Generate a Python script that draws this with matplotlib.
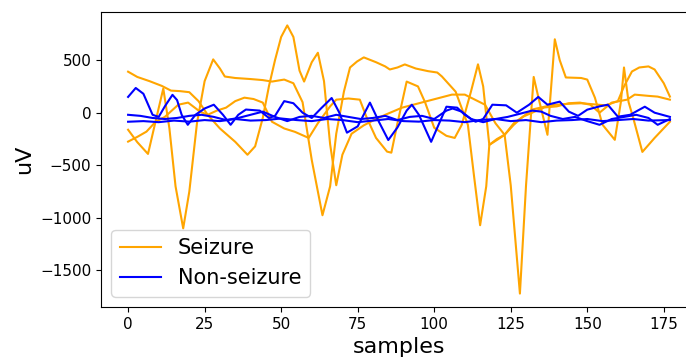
import numpy as np
import matplotlib.pyplot as plt

# seizure traces (sample index, uV)
seizure_1_x = [0, 3, 7, 11, 14, 17, 20, 23, 26, 29, 32, 35, 38, 41, 44, 47, 51, 54.5, 59, 62, 64, 66, 68, 72,
               75.7, 78, 81, 84.6, 86, 88, 91, 94.7, 97, 100, 104, 106.7, 109, 112, 114.3, 116, 118, 121, 123,
               126, 129, 132, 136, 140, 144, 147.6, 151, 154, 158, 163, 165.5, 170, 173, 177]
seizure_1_y = [390, 340, 300, 255, 210, 205, 195, 110, -20, 20, 48, 110, 143, 130, 96, -86, -150, -182, -240,
               -100, -20, 60, 124, 135, 124, -50, -240, -370, -380, -100, 296, 250, 100, -143, -220, -240,
               -115, 200, 460, 250, -306, -250, -210, -100, -38, 0, 50, 60, 90, 96, 76, 0, 96, 124, 172,
               160, 153, 124]

seizure_2_x = [0, 3, 6.5, 9, 11.5, 13.5, 15.5, 18, 20, 22.5, 25, 27.8, 30, 31.6, 35, 40, 44, 47, 51, 54, 57,
               60, 63.5, 66, 68, 70.5, 72.5, 74.8, 77, 81, 84, 85.5, 88, 90.4, 94, 98, 101, 102.5, 107, 111,
               113, 115, 117, 118, 120.5, 123, 126, 129, 132, 135, 138, 140, 144, 148, 152, 156, 160, 162,
               164.6, 167, 170, 172, 175, 177]
seizure_2_y = [-162, -280, -392, -80, 230, -150, -700, -1100, -750, -100, 300, 507, 420, 344, 330, 320, 310,
               296, 315, 280, 100, -450, -975, -700, -200, 200, 430, 487, 526, 480, 440, 411, 430, 459, 420,
               395, 382, 345, 200, -115, -600, -1070, -700, -306, -250, -210, -115, -38, 30, 50, 70, 76, 85,
               90, 80, 70, 110, 250, 392, 430, 440, 411, 280, 153]

seizure_3_x = [0, 3, 6, 9, 12, 16.4, 19.6, 23.5, 26, 30, 35, 39, 41.5, 44, 46, 48, 50, 52, 54, 56, 57.5, 60,
               62, 64, 66, 68, 70, 73, 77, 81, 84, 89.5, 97, 105.8, 110, 116.6, 120, 123, 125, 128, 130,
               132.5, 134, 137, 139.4, 141, 143, 148, 150, 152.5, 155, 159, 161, 162, 163.5, 165, 168, 172, 177]
seizure_3_y = [-275, -230, -180, -86, -40, 76, 96, 10, -20, -150, -277, -400, -320, -50, 250, 500, 720, 830,
               720, 400, 296, 480, 570, 300, -300, -690, -400, -200, -120, -60, -20, 48, 105, 172, 172, 76,
               -100, -210, -690, -1720, -690, 340, 150, -210, 698, 500, 335, 330, 315, 143, -115, -258, 105,
               430, 100, -48, -373, -240, -86]

# non-seizure traces
normal_1_x = [0, 2.5, 5, 8, 10, 12, 14.5, 16, 17.5, 19.5, 22, 25, 28, 31, 33.5, 36, 38.5, 43, 46, 48, 51, 54,
              57, 60, 63, 66.5, 69, 71.5, 75, 79, 82, 85, 88, 91, 92.7, 95, 99, 101, 104, 107.5, 110, 113.5,
              116, 119, 123.5, 127, 131, 134, 137, 141, 144, 147, 150, 154, 156.7, 160, 164, 168.8, 172, 177]
normal_1_y = [150, 235, 180, -20, -40, 60, 170, 120, -20, -115, -20, 40, 76, -20, -115, -20, 30, 20, -50, -30,
              110, 90, 0, -50, 40, 140, 0, -190, -130, 96, -90, -260, -140, 20, 76, -20, -277, -143, 57, 48,
              -20, -86, -60, 76, 70, 0, 76, 150, 76, 105, 10, -30, 29, 60, 76, -38, -20, 57, 0, -40]

normal_2_x = [0, 4, 8, 12, 16, 20, 24, 28, 32, 36, 40, 44, 48, 52, 56, 60, 64, 68, 72, 76, 80, 84, 88, 92,
              96, 100, 104, 106, 109, 112, 116, 120, 124, 128, 132, 135, 138, 142, 146, 150, 154, 158, 162,
              166, 170, 173, 177]
normal_2_y = [-20, -30, -50, -60, -50, -30, -20, -40, -70, -50, -20, 10, -40, -80, -40, -30, -50, -20, -40,
              -60, -50, -30, -70, -40, -30, -60, 20, 40, 10, -60, -90, -60, -40, -10, 20, 10, -30, -60, -40,
              -80, -115, -60, -40, -20, -50, -115, -60]

normal_3_x = [0, 5, 10, 15, 20, 25, 30, 35, 40, 45, 50, 55, 60, 65, 70, 75, 80, 85, 90, 95, 100, 105, 110,
              115, 120, 125, 130, 135, 140, 145, 150, 155, 160, 165, 170, 177]
normal_3_y = [-86, -80, -90, -75, -85, -70, -80, -60, -75, -70, -55, -70, -80, -60, -70, -90, -75, -60, -80,
              -85, -70, -75, -90, -70, -60, -80, -70, -90, -75, -70, -60, -80, -70, -60, -75, -70]

seizure = [(seizure_1_x, seizure_1_y), (seizure_2_x, seizure_2_y), (seizure_3_x, seizure_3_y)]
normal = [(normal_1_x, normal_1_y), (normal_2_x, normal_2_y), (normal_3_x, normal_3_y)]

fig = plt.figure(figsize=(6.86, 3.60), dpi=100)
ax = fig.add_axes([101/686, 53/360, 596/686, 295/360])

for i, (x, y) in enumerate(seizure):
    ax.plot(x, y, color='orange', lw=1.5, label='Seizure' if i == 0 else None)
for i, (x, y) in enumerate(normal):
    ax.plot(x, y, color='blue', lw=1.5, label='Non-seizure' if i == 0 else None)

ax.set_xticks([0, 25, 50, 75, 100, 125, 150, 175])
ax.set_yticks([-1500, -1000, -500, 0, 500])
ax.tick_params(labelsize=11)
ax.set_xlabel('samples', fontsize=16)
ax.set_ylabel('uV', fontsize=16)
ax.legend(loc='lower left', fontsize=15)

fig.savefig('out.png', dpi=100)
